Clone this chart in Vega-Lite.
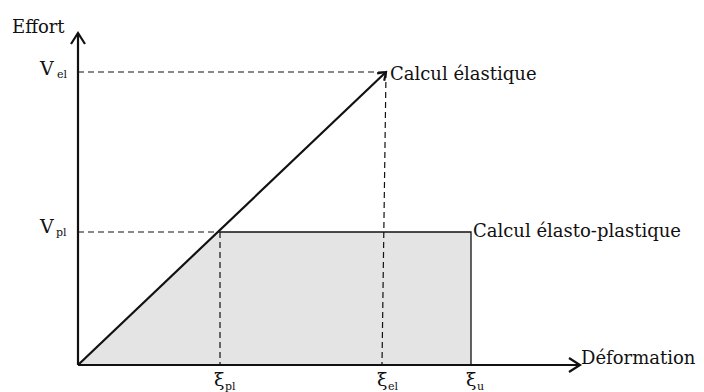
{
  "$schema": "https://vega.github.io/schema/vega-lite/v6.json",
  "autosize": {"type": "none"},
  "width": 502,
  "height": 332,
  "padding": {"left": 78, "top": 33, "right": 124, "bottom": 27},
  "background": "white",
  "config": {"view": {"stroke": null}},
  "datasets": {
    "zone": [
      {"x": 0, "y": 0},
      {"x": 142, "y": 133},
      {"x": 393, "y": 133}
    ],
    "axes": [
      {"seg": "yaxis", "o": 1, "x": 0, "y": 0},
      {"seg": "yaxis", "o": 2, "x": 0, "y": 332},
      {"seg": "yhead", "o": 1, "x": -7, "y": 321},
      {"seg": "yhead", "o": 2, "x": 0, "y": 332},
      {"seg": "yhead", "o": 3, "x": 7, "y": 321},
      {"seg": "xaxis", "o": 1, "x": 0, "y": 0},
      {"seg": "xaxis", "o": 2, "x": 502, "y": 0},
      {"seg": "xhead", "o": 1, "x": 491, "y": 7},
      {"seg": "xhead", "o": 2, "x": 502, "y": 0},
      {"seg": "xhead", "o": 3, "x": 491, "y": -7},
      {"seg": "elastic", "o": 1, "x": 0, "y": 0},
      {"seg": "elastic", "o": 2, "x": 308, "y": 293},
      {"seg": "ehead", "o": 1, "x": 306.2, "y": 284.2},
      {"seg": "ehead", "o": 2, "x": 308, "y": 293},
      {"seg": "ehead", "o": 3, "x": 299.1, "y": 291.7}
    ],
    "plastic": [
      {"seg": "plateau", "o": 1, "x": 142, "y": 133},
      {"seg": "plateau", "o": 2, "x": 393, "y": 133},
      {"seg": "plateau", "o": 3, "x": 393, "y": 0}
    ],
    "guides": [
      {"seg": "vel", "o": 1, "x": 0, "y": 293},
      {"seg": "vel", "o": 2, "x": 308, "y": 293},
      {"seg": "vpl", "o": 1, "x": 0, "y": 133},
      {"seg": "vpl", "o": 2, "x": 142, "y": 133},
      {"seg": "epl", "o": 1, "x": 142, "y": 133},
      {"seg": "epl", "o": 2, "x": 142, "y": 0},
      {"seg": "eel", "o": 1, "x": 308, "y": 293},
      {"seg": "eel", "o": 2, "x": 304, "y": 0}
    ],
    "labels": [
      {"t": "Effort", "x": -66, "y": 332, "s": 18},
      {"t": "Calcul élastique", "x": 312, "y": 285, "s": 18},
      {"t": "Calcul élasto-plastique", "x": 395, "y": 128, "s": 18},
      {"t": "Déformation", "x": 503, "y": 1, "s": 18},
      {"t": "V", "x": -38, "y": 290, "s": 19},
      {"t": "V", "x": -38, "y": 132, "s": 19},
      {"t": "ξ", "x": 136, "y": -21, "s": 19},
      {"t": "ξ", "x": 299, "y": -21, "s": 19},
      {"t": "ξ", "x": 388, "y": -21, "s": 19}
    ],
    "subs": [
      {"t": "el", "x": -21, "y": 287},
      {"t": "pl", "x": -22, "y": 129},
      {"t": "pl", "x": 147, "y": -25},
      {"t": "el", "x": 310, "y": -25},
      {"t": "u", "x": 399, "y": -25}
    ]
  },
  "layer": [
    {
      "data": {"name": "zone"},
      "mark": {"type": "area", "color": "#e4e4e4", "opacity": 1},
      "encoding": {
        "x": {"field": "x", "type": "quantitative", "scale": {"domain": [0, 502], "nice": false, "zero": false}, "axis": null},
        "y": {"field": "y", "type": "quantitative", "scale": {"domain": [0, 332], "nice": false, "zero": false}, "axis": null},
        "y2": {"datum": 0}
      }
    },
    {
      "data": {"name": "guides"},
      "mark": {"type": "line", "color": "#111", "strokeWidth": 1.2, "strokeDash": [6, 4]},
      "encoding": {
        "x": {"field": "x", "type": "quantitative"},
        "y": {"field": "y", "type": "quantitative"},
        "detail": {"field": "seg"},
        "order": {"field": "o"}
      }
    },
    {
      "data": {"name": "plastic"},
      "mark": {"type": "line", "color": "#111", "strokeWidth": 1.3},
      "encoding": {
        "x": {"field": "x", "type": "quantitative"},
        "y": {"field": "y", "type": "quantitative"},
        "detail": {"field": "seg"},
        "order": {"field": "o"}
      }
    },
    {
      "data": {"name": "axes"},
      "mark": {"type": "line", "color": "#111", "strokeWidth": 2.2, "clip": false},
      "encoding": {
        "x": {"field": "x", "type": "quantitative"},
        "y": {"field": "y", "type": "quantitative"},
        "detail": {"field": "seg"},
        "order": {"field": "o"}
      }
    },
    {
      "data": {"name": "labels"},
      "mark": {"type": "text", "font": "DejaVu Serif", "align": "left", "baseline": "alphabetic", "color": "#111"},
      "encoding": {
        "x": {"field": "x", "type": "quantitative"},
        "y": {"field": "y", "type": "quantitative"},
        "text": {"field": "t"},
        "size": {"field": "s", "type": "quantitative", "scale": null}
      }
    },
    {
      "data": {"name": "subs"},
      "mark": {"type": "text", "font": "DejaVu Serif", "align": "left", "baseline": "alphabetic", "fontSize": 11, "color": "#111"},
      "encoding": {
        "x": {"field": "x", "type": "quantitative"},
        "y": {"field": "y", "type": "quantitative"},
        "text": {"field": "t"}
      }
    }
  ]
}
